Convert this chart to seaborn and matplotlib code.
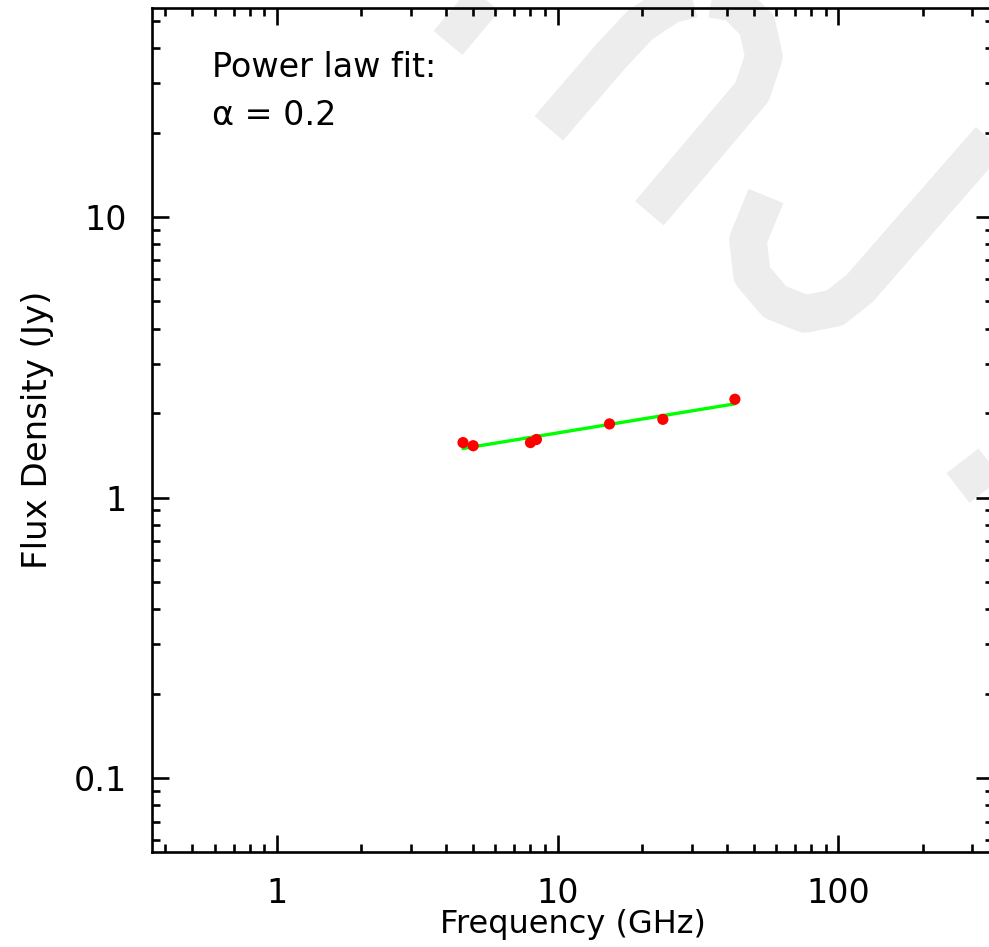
import numpy as np
import pandas as pd
import matplotlib
matplotlib.use("Agg")
import matplotlib.pyplot as plt
from matplotlib.lines import Line2D
from matplotlib.ticker import LogLocator, FixedLocator, NullFormatter, FixedFormatter
import seaborn as sns

# ---- data ----
freq_ghz = [4.6, 5.0, 8.0, 8.4, 15.3, 23.7, 42.8]
flux_jy = [1.57, 1.53, 1.57, 1.61, 1.83, 1.90, 2.24]
x_ticks = [1, 10, 100]
x_tick_labels = ["1", "10", "100"]
y_ticks = [0.1, 1, 10]
y_tick_labels = ["0.1", "1", "10"]
fit_label = ["Power law fit:", "\u03b1 = 0.2"]

sns.set_theme(style="ticks")
plt.rcParams['font.family'] = ['DejaVu Sans']

W, H = 989, 947
fig = plt.figure(figsize=(W / 100, H / 100), dpi=100)
fig.patch.set_facecolor("white")

def px(pts):
    return [p[0] / W for p in pts], [1 - p[1] / H for p in pts]

# ---- watermark (decorative light-grey strokes) ----
wm_color = "#ededed"
wm_lw = 27
strokes = [
    [(448, 43), (505, -25)],
    [(548.8, 128.3), (610.4, 56.7), (640, 25), (670, 5), (700, -3), (735, 3),
     (757, 25), (764, 56.7), (752, 92), (649.4, 213.3)],
    [(1001, 126.7), (860, 288), (835, 308), (805, 314), (775, 302), (752, 275),
     (748, 240), (766, 196)],
    [(958, 488), (1010, 448)],
]
for s in strokes:
    xs, ys = px(s)
    ln = Line2D(xs, ys, transform=fig.transFigure, color=wm_color, lw=wm_lw,
                solid_capstyle="butt", solid_joinstyle="round", zorder=-5)
    fig.add_artist(ln)

# ---- axes ----
left, right, top, bottom = 152, 993, 8, 852
ax = fig.add_axes([left / W, 1 - bottom / H, (right - left) / W, (bottom - top) / H])
ax.set_facecolor("none")

df = pd.DataFrame({"freq": freq_ghz, "flux": flux_jy})
lx, ly = np.log10(df["freq"]), np.log10(df["flux"])
slope, icpt = np.polyfit(lx, ly, 1)
fit_x = np.array([min(freq_ghz), max(freq_ghz)])
fit_df = pd.DataFrame({"freq": fit_x, "flux": 10 ** (icpt + slope * np.log10(fit_x))})

sns.lineplot(data=fit_df, x="freq", y="flux", ax=ax, color="#00ff00", lw=2.4, zorder=3)
sns.scatterplot(data=df, x="freq", y="flux", ax=ax, color="#ff0000", s=65,
                edgecolor="none", zorder=4)

ax.set_xscale("log")
ax.set_yscale("log")
ax.set_xlim(0.3587, 355.6)
ax.set_ylim(0.0545, 55.6)

ax.xaxis.set_major_locator(FixedLocator(x_ticks))
ax.yaxis.set_major_locator(FixedLocator(y_ticks))
ax.xaxis.set_major_formatter(FixedFormatter(x_tick_labels))
ax.yaxis.set_major_formatter(FixedFormatter(y_tick_labels))
ax.xaxis.set_minor_locator(LogLocator(base=10, subs=np.arange(2, 10), numticks=20))
ax.yaxis.set_minor_locator(LogLocator(base=10, subs=np.arange(2, 10), numticks=20))
ax.xaxis.set_minor_formatter(NullFormatter())
ax.yaxis.set_minor_formatter(NullFormatter())

for sp in ax.spines.values():
    sp.set_visible(True)
    sp.set_linewidth(1.9)
    sp.set_color("black")

ax.tick_params(which="major", direction="in", length=12.5, width=1.9, color="black",
               top=True, right=True, labelsize=24, pad=18, labelcolor="black")
ax.tick_params(which="minor", direction="in", length=6, width=1.9, color="black",
               top=True, right=True)

ax.set_xlabel("Frequency (GHz)", fontsize=23, color="black", va="baseline")
ax.xaxis.set_label_coords(0.5, (bottom - 933) / (bottom - top))
ax.set_ylabel("Flux Density (Jy)", fontsize=24.5, labelpad=14, color="black")
ax.grid(False)

ax.text(212 / W, 1 - 77 / H, fit_label[0], transform=fig.transFigure, fontsize=24,
        ha="left", va="baseline", color="black")
ax.text(212 / W, 1 - 125 / H, fit_label[1], transform=fig.transFigure, fontsize=24,
        ha="left", va="baseline", color="black")

fig.savefig("out.png", dpi=100)
